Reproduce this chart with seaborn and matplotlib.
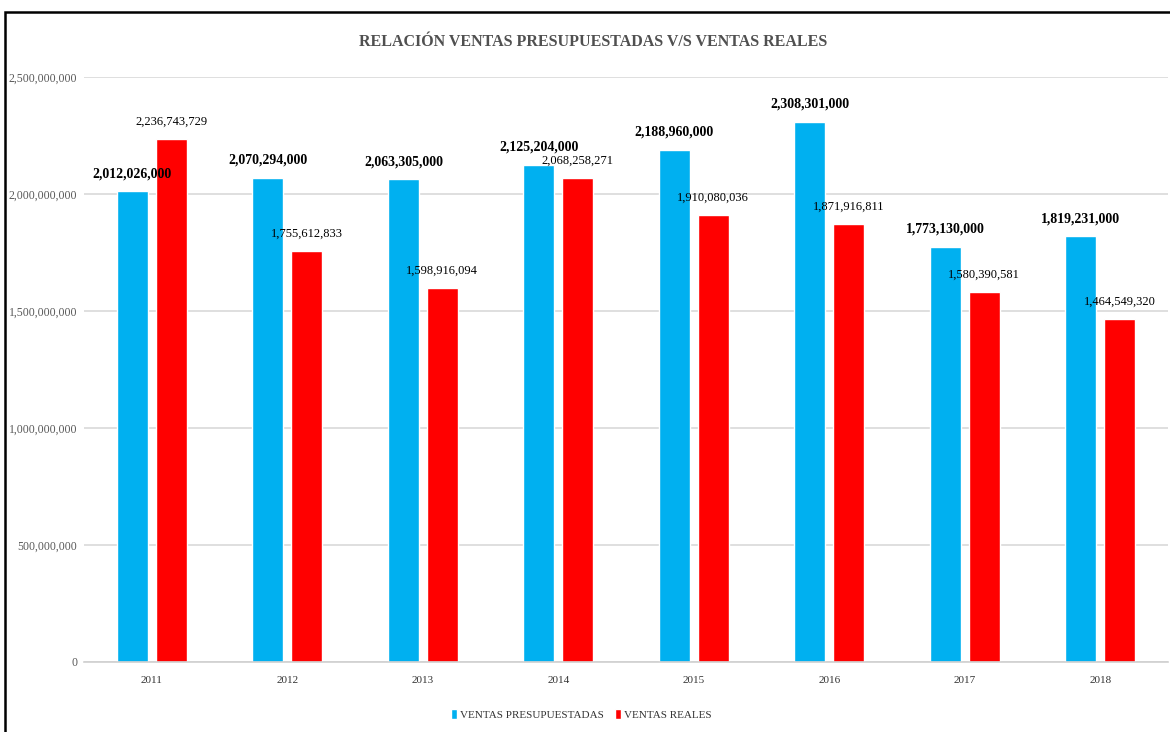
import matplotlib
matplotlib.use("Agg")
import matplotlib.pyplot as plt
from matplotlib.patches import Rectangle
import pandas as pd
import seaborn as sns

# Sales figures per year
years = ["2011", "2012", "2013", "2014", "2015", "2016", "2017", "2018"]
presupuestadas = [2012026000, 2070294000, 2063305000, 2125204000,
                  2188960000, 2308301000, 1773130000, 1819231000]
reales = [2236743729, 1755612833, 1598916094, 2068258271,
          1910080036, 1871916811, 1580390581, 1464549320]
series_names = ["VENTAS PRESUPUESTADAS", "VENTAS REALES"]
y_ticks = [0, 500000000, 1000000000, 1500000000, 2000000000, 2500000000]
title = "RELACIÓN VENTAS PRESUPUESTADAS V/S VENTAS REALES"

df = pd.DataFrame({
    "year": years * 2,
    "value": presupuestadas + reales,
    "serie": [series_names[0]] * len(years) + [series_names[1]] * len(years),
})

sns.set_theme(style="white")
plt.rcParams["font.family"] = ["Liberation Serif", "DejaVu Serif"]

W, H = 1170, 732
fig = plt.figure(figsize=(W / 100, H / 100), dpi=100)
ax = fig.add_axes([84 / W, 1 - 662 / H, (1168 - 84) / W, (662 - 77) / H])

palette = {series_names[0]: "#00B0F0", series_names[1]: "#FF0000"}
sns.barplot(data=df, x="year", y="value", hue="serie", palette=palette,
            width=0.57, gap=0.2, saturation=1, ax=ax, errorbar=None)

ax.set_ylim(0, 2500000000)
ax.set_xlim(-0.5, 7.5)
ax.set_yticks(y_ticks)
ax.set_yticklabels([f"{v:,}" for v in y_ticks], color="#595959", fontsize=8.5)
ax.tick_params(axis="y", length=0, pad=5)
ax.tick_params(axis="x", length=0, pad=10, labelsize=8, labelcolor="#333333")
ax.set_xlabel("")
ax.set_ylabel("")
ax.grid(axis="y", color="#D9D9D9", linewidth=1.2)
ax.set_axisbelow(True)
for side in ["top", "right", "left"]:
    ax.spines[side].set_visible(False)
ax.spines["bottom"].set_color("#D0D0D0")
ax.spines["bottom"].set_linewidth(1.2)

# Value labels above bars
ax.bar_label(ax.containers[0], labels=[f"{v:,}" for v in presupuestadas],
             padding=8, fontsize=10, fontweight="bold", color="black")
ax.bar_label(ax.containers[1], labels=[f"{v:,}" for v in reales],
             padding=8, fontsize=9, color="black")

sns.move_legend(ax, "center", bbox_to_anchor=(0.497, 0.024),
                bbox_transform=fig.transFigure, ncol=2, title=None,
                frameon=False, fontsize=8, handlelength=0.5,
                handleheight=1.0, handletextpad=0.3, columnspacing=1.0)
for t in ax.get_legend().get_texts():
    t.set_color("#333333")

fig.text(0.507, 1 - 42 / H, title, ha="center", va="center",
         fontsize=11.5, fontweight="bold", color="#505050")

# Outer frame
fig.add_artist(Rectangle((5 / W, -0.05), 1.2, 1 - 12 / H + 0.05,
                         transform=fig.transFigure, fill=False,
                         edgecolor="black", linewidth=1.8))

fig.savefig("out.png", dpi=100)
